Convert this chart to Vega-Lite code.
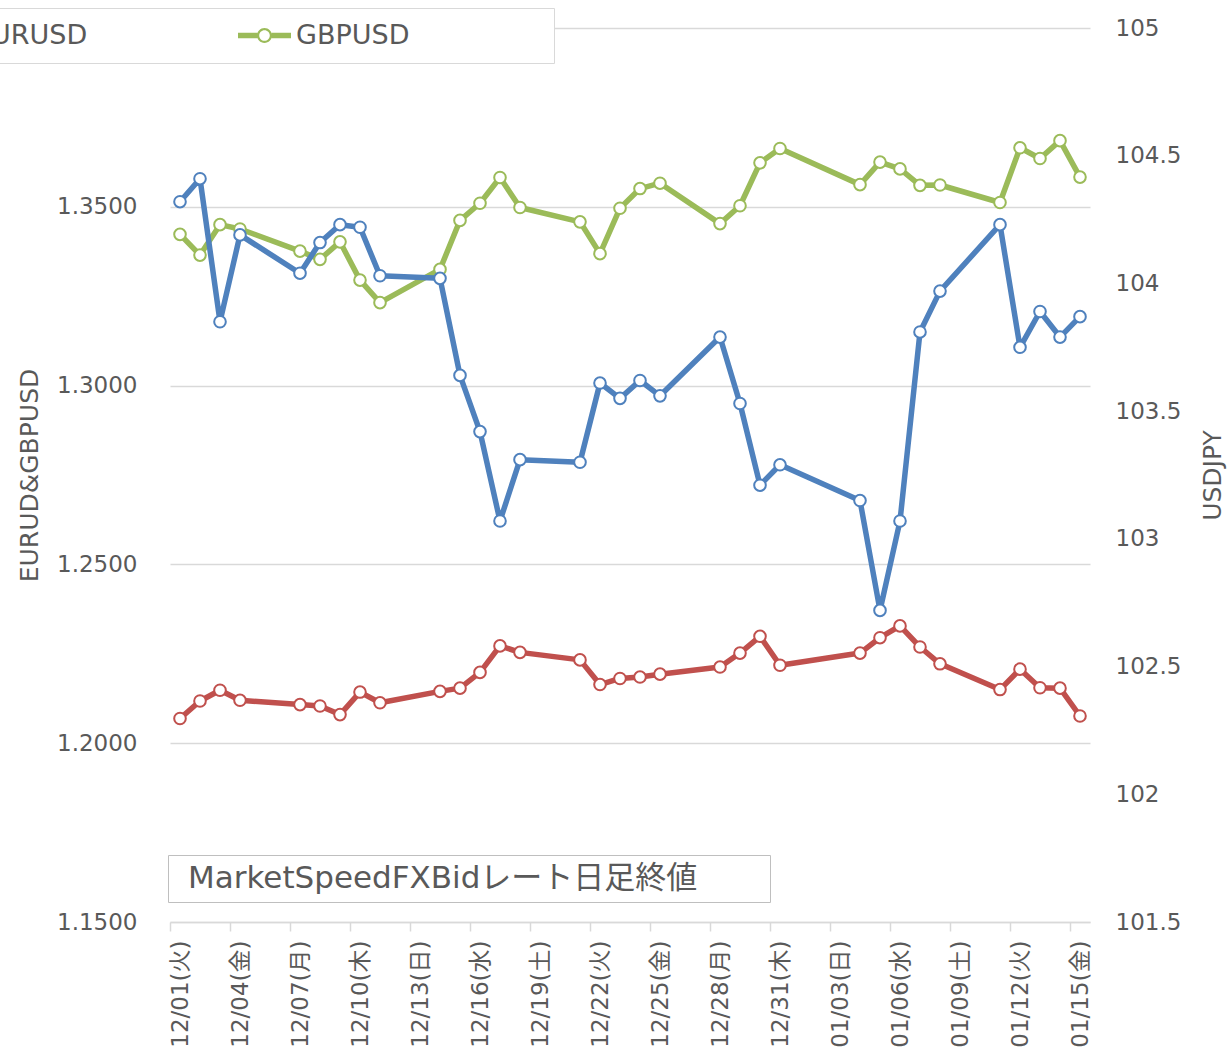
{
  "$schema": "https://vega.github.io/schema/vega-lite/v6.json",
  "width": 920,
  "height": 894,
  "autosize": {"type": "none"},
  "padding": {"left": 170, "top": 28, "right": 138, "bottom": 133},
  "background": "white",
  "config": {
    "font": "DejaVu Sans, Noto Sans CJK JP",
    "view": {"stroke": null}
  },
  "data": {
    "values": [
      {"date": "2020/12/01", "EURUSD": 1.2069, "GBPUSD": 1.3423, "USDJPY": 104.32},
      {"date": "2020/12/02", "EURUSD": 1.2118, "GBPUSD": 1.3365, "USDJPY": 104.41},
      {"date": "2020/12/03", "EURUSD": 1.2148, "GBPUSD": 1.3450, "USDJPY": 103.85},
      {"date": "2020/12/04", "EURUSD": 1.2120, "GBPUSD": 1.3438, "USDJPY": 104.19},
      {"date": "2020/12/07", "EURUSD": 1.2108, "GBPUSD": 1.3376, "USDJPY": 104.04},
      {"date": "2020/12/08", "EURUSD": 1.2104, "GBPUSD": 1.3353, "USDJPY": 104.16},
      {"date": "2020/12/09", "EURUSD": 1.2080, "GBPUSD": 1.3402, "USDJPY": 104.23},
      {"date": "2020/12/10", "EURUSD": 1.2143, "GBPUSD": 1.3295, "USDJPY": 104.22},
      {"date": "2020/12/11", "EURUSD": 1.2113, "GBPUSD": 1.3232, "USDJPY": 104.03},
      {"date": "2020/12/14", "EURUSD": 1.2145, "GBPUSD": 1.3325, "USDJPY": 104.02},
      {"date": "2020/12/15", "EURUSD": 1.2154, "GBPUSD": 1.3462, "USDJPY": 103.64},
      {"date": "2020/12/16", "EURUSD": 1.2198, "GBPUSD": 1.3510, "USDJPY": 103.42},
      {"date": "2020/12/17", "EURUSD": 1.2272, "GBPUSD": 1.3582, "USDJPY": 103.07},
      {"date": "2020/12/18", "EURUSD": 1.2254, "GBPUSD": 1.3498, "USDJPY": 103.31},
      {"date": "2020/12/21", "EURUSD": 1.2233, "GBPUSD": 1.3458, "USDJPY": 103.30},
      {"date": "2020/12/22", "EURUSD": 1.2164, "GBPUSD": 1.3369, "USDJPY": 103.61},
      {"date": "2020/12/23", "EURUSD": 1.2181, "GBPUSD": 1.3496, "USDJPY": 103.55},
      {"date": "2020/12/24", "EURUSD": 1.2185, "GBPUSD": 1.3551, "USDJPY": 103.62},
      {"date": "2020/12/25", "EURUSD": 1.2193, "GBPUSD": 1.3566, "USDJPY": 103.56},
      {"date": "2020/12/28", "EURUSD": 1.2213, "GBPUSD": 1.3453, "USDJPY": 103.79},
      {"date": "2020/12/29", "EURUSD": 1.2252, "GBPUSD": 1.3503, "USDJPY": 103.53},
      {"date": "2020/12/30", "EURUSD": 1.2299, "GBPUSD": 1.3623, "USDJPY": 103.21},
      {"date": "2020/12/31", "EURUSD": 1.2218, "GBPUSD": 1.3663, "USDJPY": 103.29},
      {"date": "2021/01/04", "EURUSD": 1.2252, "GBPUSD": 1.3562, "USDJPY": 103.15},
      {"date": "2021/01/05", "EURUSD": 1.2295, "GBPUSD": 1.3625, "USDJPY": 102.72},
      {"date": "2021/01/06", "EURUSD": 1.2328, "GBPUSD": 1.3606, "USDJPY": 103.07},
      {"date": "2021/01/07", "EURUSD": 1.2269, "GBPUSD": 1.3560, "USDJPY": 103.81},
      {"date": "2021/01/08", "EURUSD": 1.2222, "GBPUSD": 1.3561, "USDJPY": 103.97},
      {"date": "2021/01/11", "EURUSD": 1.2150, "GBPUSD": 1.3512, "USDJPY": 104.23},
      {"date": "2021/01/12", "EURUSD": 1.2207, "GBPUSD": 1.3665, "USDJPY": 103.75},
      {"date": "2021/01/13", "EURUSD": 1.2155, "GBPUSD": 1.3635, "USDJPY": 103.89},
      {"date": "2021/01/14", "EURUSD": 1.2154, "GBPUSD": 1.3685, "USDJPY": 103.79},
      {"date": "2021/01/15", "EURUSD": 1.2076, "GBPUSD": 1.3583, "USDJPY": 103.87}
    ]
  },
  "encoding": {
    "x": {
      "field": "date",
      "type": "temporal",
      "timeUnit": "yearmonthdate",
      "bandPosition": 0.5,
      "scale": {
        "domain": [{"year": 2020, "month": 12, "date": 1}, {"year": 2021, "month": 1, "date": 16}],
        "nice": false
      },
      "axis": {
        "title": null,
        "grid": false,
        "values": [
          {"year": 2020, "month": 12, "date": 1},
          {"year": 2020, "month": 12, "date": 4},
          {"year": 2020, "month": 12, "date": 7},
          {"year": 2020, "month": 12, "date": 10},
          {"year": 2020, "month": 12, "date": 13},
          {"year": 2020, "month": 12, "date": 16},
          {"year": 2020, "month": 12, "date": 19},
          {"year": 2020, "month": 12, "date": 22},
          {"year": 2020, "month": 12, "date": 25},
          {"year": 2020, "month": 12, "date": 28},
          {"year": 2020, "month": 12, "date": 31},
          {"year": 2021, "month": 1, "date": 3},
          {"year": 2021, "month": 1, "date": 6},
          {"year": 2021, "month": 1, "date": 9},
          {"year": 2021, "month": 1, "date": 12},
          {"year": 2021, "month": 1, "date": 15}
        ],
        "labelExpr": "timeFormat(datum.value, '%m/%d') + '(' + ['日','月','火','水','木','金','土'][day(datum.value)] + ')'",
        "labelAngle": 270,
        "labelOffset": 10,
        "labelPadding": 9,
        "labelFontSize": 23,
        "labelColor": "#595959",
        "labelOverlap": false,
        "labelFlush": false,
        "labelBound": false,
        "tickSize": 9,
        "tickColor": "#d9d9d9",
        "tickWidth": 1.5,
        "domainColor": "#d9d9d9",
        "domainWidth": 1.5
      }
    }
  },
  "layer": [
    {
      "transform": [{"fold": ["EURUSD", "GBPUSD"], "as": ["pair", "rate"]}],
      "mark": {
        "type": "line",
        "strokeWidth": 5.5,
        "strokeJoin": "round",
        "strokeCap": "round",
        "point": {"filled": false, "fill": "white", "size": 135, "strokeWidth": 2}
      },
      "encoding": {
        "y": {
          "field": "rate",
          "type": "quantitative",
          "scale": {"domain": [1.15, 1.4], "nice": false, "zero": false},
          "axis": {
            "orient": "left",
            "values": [1.15, 1.2, 1.25, 1.3, 1.35, 1.4],
            "format": ".4f",
            "labelExpr": "datum.value > 1.39 ? '' : datum.label",
            "domain": false,
            "ticks": false,
            "grid": true,
            "gridColor": "#d9d9d9",
            "gridWidth": 1.5,
            "labelPadding": 33,
            "labelFontSize": 23,
            "labelColor": "#595959",
            "title": "EURUD&GBPUSD",
            "titleFontSize": 25,
            "titleFontWeight": "normal",
            "titleColor": "#595959",
            "titlePadding": 14
          }
        },
        "color": {
          "field": "pair",
          "type": "nominal",
          "scale": {"domain": ["EURUSD", "GBPUSD", "USDJPY"], "range": ["#C0504D", "#9BBB59", "#4F81BD"]},
          "legend": {
            "values": ["EURUSD", "GBPUSD"],
            "title": " ",
            "titleOrient": "right",
            "titleFontSize": 1,
            "titlePadding": 132,
            "orient": "none",
            "legendX": -267,
            "legendY": -20,
            "direction": "horizontal",
            "columnPadding": 150,
            "padding": 13,
            "strokeColor": "#d9d9d9",
            "fillColor": "white",
            "labelFontSize": 27,
            "labelColor": "#595959",
            "labelOffset": 5,
            "labelLimit": 400,
            "symbolType": "M-1,-0.1L-0.27,-0.1L-0.27,0.1L-1,0.1ZM0.27,-0.1L1,-0.1L1,0.1L0.27,0.1ZM0.28,0A0.28,0.28,0,1,1,-0.28,0A0.28,0.28,0,1,1,0.28,0ZM0.2,0A0.2,0.2,0,1,0,-0.2,0A0.2,0.2,0,1,0,0.2,0Z",
            "symbolSize": 2809,
            "clipHeight": 29,
            "encode": {
              "symbols": {
                "update": {
                  "fill": {"scale": "color", "field": "value"},
                  "stroke": {"value": "transparent"},
                  "strokeWidth": {"value": 0},
                  "opacity": {"value": 1}
                }
              }
            }
          }
        }
      }
    },
    {
      "mark": {
        "type": "line",
        "color": "#4F81BD",
        "strokeWidth": 5.5,
        "strokeJoin": "round",
        "strokeCap": "round",
        "point": {"filled": false, "fill": "white", "stroke": "#4F81BD", "size": 135, "strokeWidth": 2}
      },
      "encoding": {
        "y": {
          "field": "USDJPY",
          "type": "quantitative",
          "scale": {"domain": [101.5, 105], "nice": false, "zero": false},
          "axis": {
            "orient": "right",
            "values": [101.5, 102, 102.5, 103, 103.5, 104, 104.5, 105],
            "format": "~f",
            "domain": false,
            "ticks": false,
            "grid": false,
            "labelPadding": 25,
            "labelFontSize": 23,
            "labelColor": "#595959",
            "title": "USDJPY",
            "titleAngle": 270,
            "titleFontSize": 25,
            "titleFontWeight": "normal",
            "titleColor": "#595959",
            "titlePadding": 45
          }
        }
      }
    },
    {
      "data": {"values": [{"note": "MarketSpeedFXBidレート日足終値"}]},
      "mark": {"type": "point", "opacity": 0},
      "encoding": {
        "x": {"value": 0},
        "y": {"value": 0},
        "shape": {
          "field": "note",
          "type": "nominal",
          "legend": {
            "title": " ",
            "titleOrient": "right",
            "titleFontSize": 1,
            "titlePadding": 65,
            "orient": "none",
            "legendX": -2,
            "legendY": 827,
            "padding": 8,
            "strokeColor": "#bfbfbf",
            "fillColor": "white",
            "labelFontSize": 31,
            "labelColor": "#595959",
            "labelOffset": -19,
            "labelLimit": 1000,
            "symbolSize": 0,
            "symbolOpacity": 0
          }
        }
      }
    }
  ],
  "resolve": {"scale": {"y": "independent"}}
}
